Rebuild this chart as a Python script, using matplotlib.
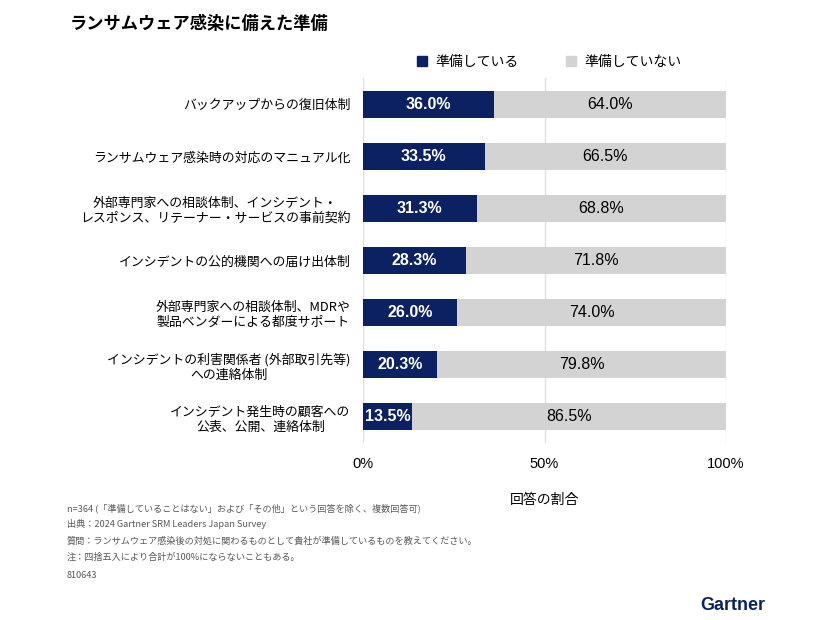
import matplotlib.pyplot as plt
import numpy as np
from matplotlib.patches import Patch

plt.rcParams['font.family'] = ['Noto Sans CJK JP', 'DejaVu Sans']

categories = [
    'バックアップからの復旧体制',
    'ランサムウェア感染時の対応のマニュアル化',
    '外部専門家への相談体制、インシデント・\nレスポンス、リテーナー・サービスの事前契約',
    'インシデントの公的機関への届け出体制',
    '外部専門家への相談体制、MDRや\n製品ベンダーによる都度サポート',
    'インシデントの利害関係者 (外部取引先等)\nへの連絡体制',
    'インシデント発生時の顧客への\n公表、公開、連絡体制',
]
prepared = [36.0, 33.5, 31.3, 28.3, 26.0, 20.3, 13.5]
not_prepared = [64.0, 66.5, 68.8, 71.8, 74.0, 79.8, 86.5]
series_names = ['準備している', '準備していない']
xticks = [0, 50, 100]
xtick_labels = ['0%', '50%', '100%']

navy = '#0b2161'
grey = '#d3d3d3'

fig = plt.figure(figsize=(8.26, 6.2), dpi=100)
ax = fig.add_axes([0.4395, 0.2855, 0.4395, 0.5885])

y = np.arange(len(categories))
h = 0.52
ax.barh(y, prepared, height=h, color=navy, zorder=3)
ax.barh(y, not_prepared, left=prepared, height=h, color=grey, zorder=3)

for yi, a, b in zip(y, prepared, not_prepared):
    ax.text(a / 2, yi, f'{a:.1f}%', ha='center', va='center',
            color='white', fontsize=11.5, fontweight='bold',
            family=['Liberation Sans', 'DejaVu Sans'], zorder=4)
    ax.text(a + b / 2, yi, f'{b:.1f}%', ha='center', va='center',
            color='black', fontsize=11.5,
            family=['Liberation Sans', 'DejaVu Sans'], zorder=4)

ax.set_ylim(len(categories) - 0.5, -0.5)
ax.set_xlim(0, 100)
ax.set_yticks(y)
ax.set_yticklabels(categories, fontsize=9.3, multialignment='center')
ax.set_xticks(xticks)
ax.set_xticklabels(xtick_labels, fontsize=10.5, family=['Liberation Sans', 'DejaVu Sans'])
ax.tick_params(axis='both', length=0)
ax.tick_params(axis='y', pad=9)
ax.tick_params(axis='x', pad=10)
ax.xaxis.grid(True, color='#e0e0e0', linewidth=1, zorder=0)
for s in ax.spines.values():
    s.set_visible(False)
ax.set_xlabel('回答の割合', fontsize=10, labelpad=16)

handles = [Patch(color=navy), Patch(color=grey)]
fig.legend(handles, series_names, loc='center', bbox_to_anchor=(0.665, 0.9),
           ncol=2, frameon=False, fontsize=10, handlelength=0.7,
           handleheight=0.7, columnspacing=3.4, handletextpad=0.6)

fig.text(0.085, 0.962, 'ランサムウェア感染に備えた準備', fontsize=12.4,
         fontweight='bold', va='center')

notes = [
    'n=364 (「準備していることはない」および「その他」という回答を除く、複数回答可)',
    '出典：2024 Gartner SRM Leaders Japan Survey',
    '質問：ランサムウェア感染後の対処に関わるものとして貴社が準備しているものを教えてください。',
    '注：四捨五入により合計が100%にならないこともある。',
    '810643',
]
ys = [508, 524, 541, 557, 575]
for t, yy in zip(notes, ys):
    fig.text(67 / 826, 1 - yy / 620, t, fontsize=6.6, color='#595959', va='center')

fig.text(0.927, 1 - 605 / 620, 'Gartner', fontsize=13, fontweight='bold',
         color=navy, ha='right', va='center',
         family=['Liberation Sans', 'DejaVu Sans'])

fig.savefig('out.png', dpi=100, facecolor='white')
